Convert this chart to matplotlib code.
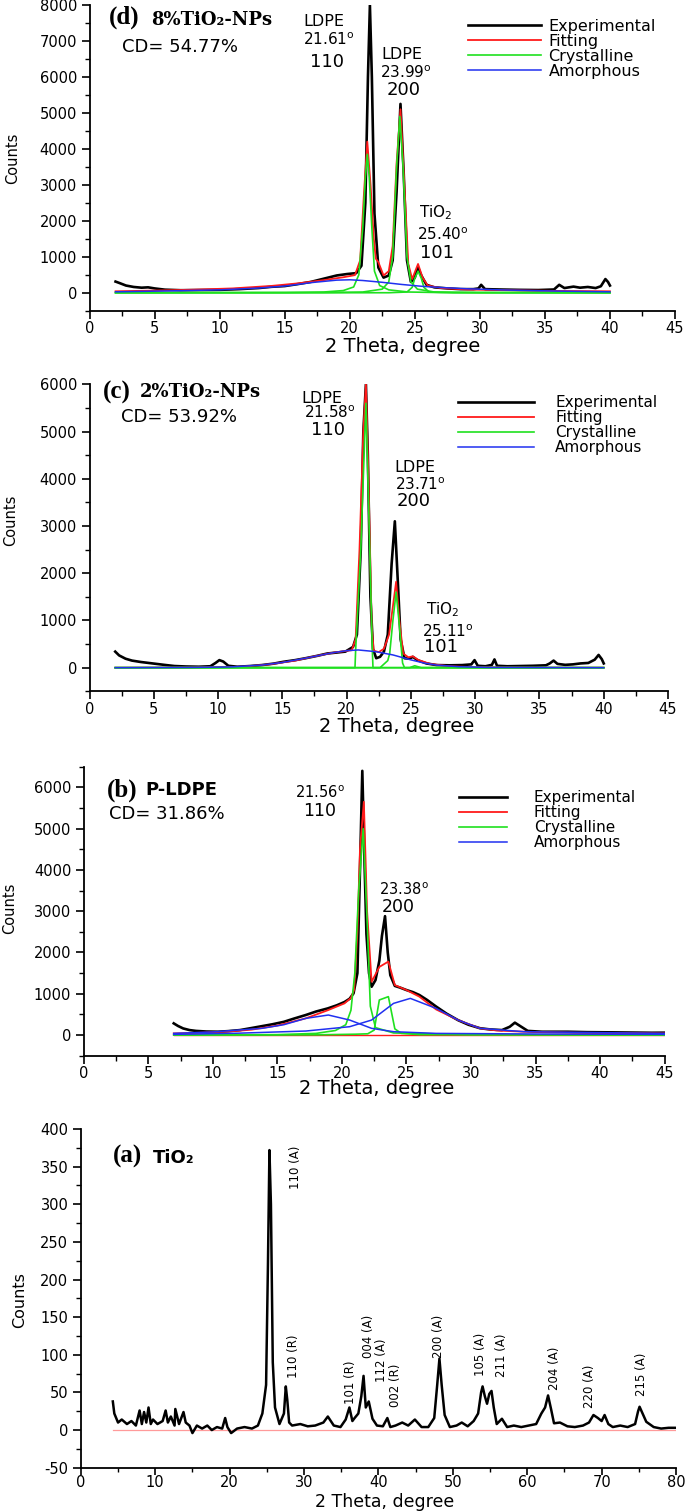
import numpy as np
import matplotlib
matplotlib.use("Agg")
import matplotlib.pyplot as plt
from matplotlib.ticker import MultipleLocator

## fonts: plain sans everywhere, serif bold only for the panel letters
matplotlib.rcParams['font.family'] = 'DejaVu Sans'
matplotlib.rcParams['mathtext.fontset'] = 'dejavusans'
matplotlib.rcParams['axes.unicode_minus'] = False

RED = "#ff1a1a"
GREEN = "#1fe01f"
BLUE = "#2030f0"

# ---------------- (d) 8% TiO2-NPs ----------------
d_exp = [(2.0, 310), (2.3, 270), (2.8, 200), (3.4, 160), (4.0, 140), (4.5, 150), (5.0, 120), (5.8, 85), (7.0, 70), (8.5, 75),
         (10.0, 80), (11.5, 100), (13.0, 130), (14.0, 165), (15.0, 185), (16.0, 240), (17.0, 300), (18.0, 390), (19.0, 480), (19.8, 520),
         (20.5, 545), (20.9, 750), (21.2, 2500), (21.4, 6000), (21.55, 8000), (21.7, 6000), (21.9, 2200), (22.2, 700), (22.6, 420), (23.0, 480),
         (23.3, 900), (23.6, 2800), (23.9, 5250), (24.15, 3300), (24.4, 900), (24.7, 300), (25.0, 420), (25.25, 700), (25.5, 480), (25.9, 220),
         (26.5, 150), (27.5, 120), (28.5, 100), (29.5, 100), (29.9, 120), (30.1, 220), (30.4, 100), (31.5, 90), (33.0, 80), (34.5, 75),
         (35.7, 90), (36.1, 220), (36.5, 130), (37.2, 170), (37.7, 140), (38.3, 160), (38.9, 130), (39.3, 180), (39.65, 380), (39.85, 300),
         (40.0, 200)]
d_fit = [(2.0, 40), (5.0, 60), (8.0, 85), (11.0, 120), (14.0, 190), (16.0, 260), (18.0, 350), (19.5, 430), (20.4, 490), (20.8, 900),
         (21.1, 2800), (21.35, 4200), (21.6, 3000), (21.85, 1500), (22.0, 950), (22.2, 850), (22.6, 480), (23.0, 600), (23.3, 1300), (23.6, 3600),
         (23.9, 5100), (24.2, 3000), (24.5, 800), (24.8, 380), (25.25, 800), (25.6, 420), (26.0, 200), (27.0, 130), (29.0, 90), (32.0, 70),
         (36.0, 50), (40.0, 40)]
d_cryst = [
    [(2.0, 0), (15.0, 5), (18.0, 20), (19.5, 60), (20.3, 160), (20.7, 500), (21.0, 1800), (21.2, 3200), (21.35, 3850), (21.5, 3200),
     (21.7, 1800), (21.9, 600), (22.3, 200), (23.0, 80), (24.5, 20), (27.0, 5), (40.0, 0)],
    [(2.0, 0), (18.0, 5), (21.0, 20), (22.5, 100), (23.0, 300), (23.3, 1000), (23.6, 3500), (23.85, 4900), (24.1, 3500), (24.4, 1000),
     (24.7, 300), (25.2, 100), (26.5, 20), (30.0, 5), (40.0, 0)],
    [(2.0, 0), (23.0, 0), (24.4, 20), (24.8, 150), (25.0, 400), (25.25, 600), (25.5, 400), (25.7, 150), (26.1, 20), (28.0, 0), (40.0, 0)],
]
d_amorph = [[(2.0, 25), (6.0, 50), (10.0, 80), (13.0, 130), (15.0, 185), (17.0, 280), (19.0, 350), (20.0, 360), (21.0, 340), (22.5, 290),
             (24.0, 230), (25.5, 180), (27.0, 145), (29.0, 110), (32.0, 75), (36.0, 45), (40.0, 25)]]

# ---------------- (c) 2% TiO2-NPs ----------------
c_exp = [(2.0, 340), (2.3, 260), (2.8, 190), (3.3, 150), (4.0, 120), (4.9, 90), (5.8, 60), (6.6, 35), (7.5, 25), (8.5, 20),
         (9.4, 30), (9.8, 100), (10.1, 160), (10.4, 130), (10.8, 40), (11.5, 20), (12.5, 35), (13.4, 55), (14.3, 85), (15.1, 125),
         (16.0, 160), (16.8, 200), (17.7, 250), (18.5, 300), (19.2, 320), (19.9, 340), (20.5, 440), (20.8, 700), (21.1, 2500), (21.3, 5000),
         (21.5, 6000), (21.65, 4500), (21.85, 1500), (22.05, 400), (22.3, 200), (22.6, 230), (22.9, 340), (23.2, 700), (23.5, 2200), (23.75, 3100),
         (23.95, 2000), (24.2, 600), (24.5, 200), (24.9, 190), (25.15, 230), (25.5, 160), (26.2, 90), (27.0, 55), (28.0, 50), (29.0, 55),
         (29.7, 70), (29.95, 160), (30.2, 40), (30.8, 30), (31.3, 60), (31.5, 175), (31.7, 40), (32.5, 30), (33.5, 35), (34.5, 40),
         (35.5, 50), (35.8, 90), (36.1, 150), (36.4, 80), (37.0, 60), (37.6, 70), (38.2, 90), (38.8, 100), (39.3, 170), (39.6, 270),
         (39.85, 180), (40.0, 90)]
c_fit = [(2.0, 0), (8.0, 5), (12.0, 20), (14.0, 70), (16.0, 150), (17.5, 240), (19.0, 320), (20.4, 370), (20.7, 600), (21.0, 2500),
         (21.3, 5000), (21.5, 6000), (21.7, 4000), (21.95, 900), (22.1, 360), (22.5, 330), (22.9, 400), (23.3, 700), (23.6, 1300), (23.85, 1820),
         (24.1, 1000), (24.4, 300), (24.8, 220), (25.15, 240), (25.6, 160), (26.5, 80), (28.0, 30), (30.0, 10), (35.0, 2), (40.0, 0)]
c_cryst = [
    [(2.0, 0), (20.65, 0), (20.7, 370), (21.1, 2500), (21.5, 5600), (21.8, 2500), (22.0, 360), (22.05, 0), (40.0, 0)],
    [(2.0, 0), (22.6, 0), (23.2, 150), (23.35, 300), (23.6, 1000), (23.85, 1600), (24.1, 900), (24.35, 100), (24.5, 0), (40.0, 0)],
    [(2.0, 0), (24.9, 0), (25.3, 40), (25.8, 0), (40.0, 0)],
]
c_amorph = [[(2.0, 0), (8.0, 5), (11.0, 15), (13.4, 55), (15.0, 110), (16.8, 200), (18.9, 315), (20.0, 360), (20.9, 375), (22.25, 340),
             (23.6, 270), (25.0, 165), (26.0, 100), (27.0, 55), (28.7, 20), (31.0, 5), (40.0, 0)]]

# ---------------- (b) P-LDPE ----------------
b_exp = [(6.97, 283), (7.3, 220), (7.7, 160), (8.2, 120), (8.7, 100), (9.5, 85), (10.4, 80), (11.2, 95), (12.1, 120), (13.0, 170),
         (13.8, 215), (14.6, 260), (15.5, 320), (16.3, 400), (17.2, 485), (18.0, 570), (18.9, 645), (19.6, 720), (20.2, 800), (20.6, 880),
         (20.9, 1010), (21.2, 1500), (21.4, 4000), (21.58, 6400), (21.75, 4200), (21.9, 2450), (22.1, 1500), (22.3, 1170), (22.6, 1330), (22.9, 1800),
         (23.1, 2400), (23.34, 2880), (23.55, 2000), (23.75, 1450), (24.1, 1190), (24.5, 1150), (25.0, 1090), (25.5, 1040), (26.0, 970), (26.6, 850),
         (27.3, 690), (28.1, 520), (29.0, 360), (29.8, 250), (30.7, 165), (31.5, 135), (32.4, 120), (33.0, 200), (33.4, 300), (33.8, 220),
         (34.4, 100), (35.5, 80), (37.5, 80), (39.0, 70), (40.9, 65), (42.5, 60), (44.0, 55), (45.0, 57)]
b_fit = [(6.97, 40), (9.0, 55), (11.0, 80), (13.0, 130), (15.0, 230), (17.2, 404), (18.9, 600), (20.2, 767), (20.7, 900), (20.95, 1100),
         (21.2, 2500), (21.4, 4500), (21.7, 5650), (21.95, 3000), (22.3, 1290), (22.9, 1650), (23.6, 1780), (24.1, 1210), (25.0, 1090), (26.0, 930),
         (27.3, 620), (29.0, 363), (30.7, 162), (32.0, 110), (34.1, 81), (38.0, 55), (45.0, 40)]
b_fit_base = [(6.97, 0), (45.0, 0)]
b_cryst = [
    [(6.97, 0), (15.0, 10), (18.0, 40), (19.5, 110), (20.3, 250), (20.7, 600), (21.0, 1500), (21.3, 3500), (21.65, 5000), (21.95, 2800),
     (22.2, 700), (22.6, 180), (24.0, 50), (30.0, 10), (45.0, 0)],
    [(6.97, 0), (18.0, 5), (21.0, 20), (22.0, 30), (22.5, 120), (22.9, 850), (23.6, 930), (24.1, 150), (24.6, 40), (26.0, 10), (45.0, 0)],
]
b_amorph = [
    [(6.97, 40), (10.0, 75), (13.8, 162), (15.5, 250), (17.2, 404), (18.95, 485), (20.6, 363), (22.3, 162), (24.0, 81), (27.3, 40),
     (35.0, 25), (45.0, 16)],
    [(6.97, 16), (12.0, 45), (17.2, 97), (20.6, 202), (22.3, 363), (24.0, 767), (25.3, 888), (27.3, 646), (29.0, 363), (30.7, 162),
     (34.1, 81), (45.0, 40)],
]

# ---------------- (a) TiO2 ----------------
a_exp = [(4.3, 38), (4.5, 22), (5.0, 10), (5.5, 14), (6.2, 8), (6.8, 12), (7.4, 6), (7.9, 26), (8.2, 8), (8.5, 24),
         (8.8, 10), (9.1, 30), (9.4, 8), (9.7, 14), (10.3, 8), (11.0, 12), (11.4, 26), (11.7, 10), (12.1, 18), (12.6, 6),
         (12.7, 28), (13.2, 8), (13.8, 24), (14.1, 10), (14.6, 6), (15.0, -4), (15.6, 6), (16.3, 2), (17.0, 6), (17.6, 0),
         (18.3, 4), (19.0, 2), (19.4, 16), (19.7, 4), (20.2, -4), (21.0, 2), (22.0, 4), (23.0, 2), (23.8, 6), (24.4, 22),
         (24.9, 60), (25.15, 220), (25.35, 372), (25.55, 300), (25.8, 90), (26.1, 30), (26.7, 8), (27.3, 22), (27.55, 58), (27.75, 40),
         (28.0, 10), (28.4, 6), (29.5, 8), (30.5, 5), (31.5, 6), (32.6, 10), (33.2, 18), (34.0, 6), (34.9, 4), (35.6, 14),
         (36.1, 30), (36.5, 12), (36.8, 16), (37.3, 22), (37.7, 45), (38.0, 72), (38.3, 30), (38.7, 38), (39.2, 15), (39.8, 6),
         (40.6, 5), (41.2, 16), (41.6, 4), (42.3, 6), (43.2, 10), (44.0, 6), (44.9, 14), (45.8, 4), (46.7, 4), (47.5, 16),
         (47.9, 60), (48.2, 95), (48.5, 60), (48.9, 20), (49.6, 4), (50.5, 6), (51.2, 10), (52.0, 5), (52.8, 12), (53.4, 22),
         (53.8, 50), (54.0, 58), (54.3, 45), (54.6, 35), (54.9, 48), (55.2, 52), (55.5, 30), (55.9, 8), (56.6, 15), (57.3, 4),
         (58.2, 6), (59.2, 4), (60.2, 6), (61.2, 8), (61.9, 22), (62.4, 30), (62.8, 46), (63.2, 28), (63.6, 9), (64.4, 10),
         (65.4, 5), (66.4, 4), (67.5, 6), (68.3, 10), (68.9, 20), (69.5, 16), (70.0, 12), (70.4, 20), (70.9, 8), (71.5, 4),
         (72.5, 6), (73.5, 4), (74.5, 8), (74.9, 25), (75.1, 31), (75.5, 22), (76.0, 11), (77.0, 4), (78.0, 2), (79.0, 3),
         (80.0, 3)]
a_base = [(4.3, 0), (80.0, 0)]
# reflection labels: (text, 2theta, counts) at label centre
a_hkl = [("110 (A)", 28.9, 349), ("110 (R)", 28.6, 98), ("101 (R)", 36.2, 64), ("004 (A)", 38.7, 124),
         ("112 (A)", 40.4, 93), ("002 (R)", 42.3, 60), ("200 (A)", 48.1, 124), ("105 (A)", 53.7, 101),
         ("211 (A)", 56.6, 100), ("204 (A)", 63.6, 82), ("220 (A)", 68.4, 58), ("215 (A)", 75.4, 74)]

# peak annotations: (text, x, y, size)
d_notes = [("LDPE", 16.4, 7530, 11.5), ("21.61$^{\\rm o}$", 16.4, 7030, 11), ("110", 16.95, 6420, 13),
           ("LDPE", 22.4, 6610, 11.5), ("23.99$^{\\rm o}$", 22.3, 6110, 11), ("200", 22.8, 5640, 13),
           ("TiO$_2$", 25.3, 2220, 11), ("25.40$^{\\rm o}$", 25.2, 1610, 11), ("101", 25.4, 1100, 13)]
c_notes = [("LDPE", 16.5, 5690, 11.5), ("21.58$^{\\rm o}$", 16.7, 5394, 11), ("110", 17.2, 5034, 13),
           ("LDPE", 23.7, 4229, 11.5), ("23.71$^{\\rm o}$", 23.8, 3869, 11), ("200", 23.9, 3530, 13),
           ("TiO$_2$", 26.2, 1222, 11), ("25.11$^{\\rm o}$", 25.9, 756, 11), ("101", 26.0, 438, 13)]
b_notes = [("21.56$^{\\rm o}$", 16.4, 5860, 10.5), ("110", 17.0, 5420, 12.5),
           ("23.38$^{\\rm o}$", 22.9, 3530, 10.5), ("200", 23.1, 3110, 12.5)]


def xy(points):
    arr = np.array(points, dtype=float)
    return arr[:, 0], arr[:, 1]


def style_axis(ax, xlim, xmaj, ylim, ymaj, yticks, xlab_pos, ylab_pos, ylab_size):
    ax.spines['top'].set_visible(False)
    ax.spines['right'].set_visible(False)
    ax.spines['left'].set_linewidth(1.3)
    ax.spines['bottom'].set_linewidth(1.3)
    ax.set_xlim(*xlim)
    ax.set_ylim(*ylim)
    ax.xaxis.set_major_locator(MultipleLocator(xmaj))
    ax.xaxis.set_minor_locator(MultipleLocator(xmaj / 2))
    ax.set_yticks(yticks)
    ax.yaxis.set_minor_locator(MultipleLocator(ymaj / 2))
    ax.tick_params(which='major', direction='out', length=6, width=1.2, labelsize=10.5)
    ax.tick_params(axis='x', which='major', pad=1.5)
    ax.tick_params(axis='y', which='major', pad=3)
    ax.tick_params(which='minor', direction='out', length=3.5, width=1.0)
    ax.set_xlabel("2 Theta, degree", fontsize=14, va='center')
    ax.xaxis.set_label_coords(*xlab_pos)
    ax.set_ylabel("Counts", fontsize=ylab_size, va='center')
    ax.yaxis.set_label_coords(*ylab_pos)


def fit_panel(ax, exp, fit, cryst, amorph, base=None):
    ax.plot(*xy(exp), color='black', lw=1.9, label='Experimental', zorder=3)
    ax.plot(*xy(fit), color=RED, lw=1.3, label='Fitting', zorder=4)
    if base is not None:
        ax.plot(*xy(base), color=RED, lw=1.0, zorder=4)
    for i, comp in enumerate(cryst):
        ax.plot(*xy(comp), color=GREEN, lw=1.2, label='Crystalline' if i == 0 else None, zorder=5)
    for i, comp in enumerate(amorph):
        ax.plot(*xy(comp), color=BLUE, lw=1.1, label='Amorphous' if i == 0 else None, zorder=5)


def add_legend(fig, ax, anchor, size, hlen, tpad):
    ax.legend(loc='upper left', bbox_to_anchor=anchor, bbox_transform=fig.transFigure,
              frameon=False, fontsize=size, handlelength=hlen, handletextpad=tpad,
              labelspacing=0.0, borderpad=0, borderaxespad=0)


fig = plt.figure(figsize=(6.85, 15.12), dpi=100)

##### panel d
ax = fig.add_axes([0.1307, 0.7945, 0.8547, 0.2022])
fit_panel(ax, d_exp, d_fit, d_cryst, d_amorph)
style_axis(ax, (0, 45), 5, (-500, 8000), 1000, np.arange(0, 8001, 1000),
           (0.534, -0.118), (-0.132, 0.5), 10.5)
add_legend(fig, ax, (468 / 685, 1 - 19 / 1512), 11.5, 4.6, 0.44)
ax.text(1.5, 7660, "(d)", fontsize=18, fontweight='bold', family='Liberation Serif', va='center')
ax.text(4.7, 7590, "8%TiO₂-NPs", fontsize=13, fontweight='bold', family='DejaVu Serif', va='center')
ax.text(2.5, 6830, "CD= 54.77%", fontsize=13, va='center')
for txt, x, y, s in d_notes:
    ax.text(x, y, txt, fontsize=s, va='center')

##### panel c
ax = fig.add_axes([0.1307, 0.5428, 0.8445, 0.2030])
fit_panel(ax, c_exp, c_fit, c_cryst, c_amorph)
style_axis(ax, (0, 45), 5, (-500, 6000), 1000, np.arange(0, 6001, 1000),
           (0.53, -0.116), (-0.136, 0.558), 10.5)
add_legend(fig, ax, (458 / 685, 1 - 395 / 1512), 11, 5.0, 1.37)
ax.text(1.05, 5820, "(c)", fontsize=18, fontweight='bold', family='Liberation Serif', va='center')
ax.text(3.93, 5840, "2%TiO₂-NPs", fontsize=13, fontweight='bold', family='DejaVu Serif', va='center')
ax.text(2.45, 5310, "CD= 53.92%", fontsize=13, va='center')
for txt, x, y, s in c_notes:
    ax.text(x, y, txt, fontsize=s, va='center')

##### panel b
ax = fig.add_axes([0.1223, 0.3018, 0.8479, 0.1911])
fit_panel(ax, b_exp, b_fit, b_cryst, b_amorph, base=b_fit_base)
style_axis(ax, (0, 45), 5, (-500, 6500), 1000, np.arange(0, 6001, 1000),
           (0.504, -0.112), (-0.127, 0.511), 10.5)
add_legend(fig, ax, (459 / 685, 1 - 790 / 1512), 11, 3.14, 1.76)
ax.text(1.8, 5935, "(b)", fontsize=18, fontweight='bold', family='Liberation Serif', va='center')
ax.text(4.74, 5935, "P-LDPE", fontsize=13, fontweight='bold', va='center')
ax.text(1.95, 5354, "CD= 31.86%", fontsize=13, va='center')
for txt, x, y, s in b_notes:
    ax.text(x, y, txt, fontsize=s, va='center')

##### panel a
ax = fig.add_axes([0.118, 0.0293, 0.8689, 0.2240])
ax.plot(*xy(a_base), color='#ff9a9a', lw=0.9, zorder=2)
ax.plot(*xy(a_exp), color='black', lw=1.8, zorder=3)
style_axis(ax, (0, 80), 10, (-50, 400), 50, np.arange(-50, 401, 50),
           (0.511, -0.1), (-0.102, 0.495), 11.5)
ax.tick_params(axis='x', which='major', length=5, pad=0.5)
ax.tick_params(axis='x', which='minor', length=3)
ax.xaxis.label.set_fontsize(12.5)
ax.text(4.3, 364, "(a)", fontsize=18, fontweight='bold', family='Liberation Serif', va='center')
ax.text(9.7, 361, "TiO₂", fontsize=13, fontweight='bold', va='center')
for txt, x, y in a_hkl:
    ax.text(x, y, txt, fontsize=8.5, rotation=90, ha='center', va='center')

fig.savefig("out.png", dpi=100)
